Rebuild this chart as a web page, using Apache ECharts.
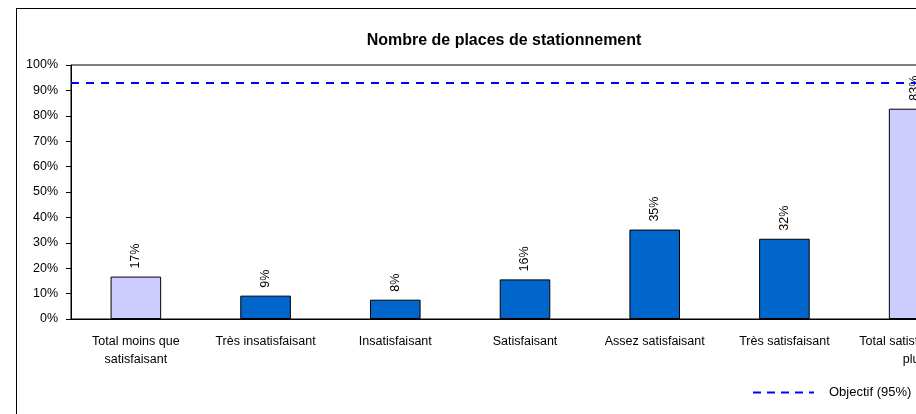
<!DOCTYPE html>
<html>
<head>
<meta charset="utf-8">
<script src="https://cdn.jsdelivr.net/npm/echarts@6/dist/echarts.min.js"></script>
<style>
  html, body { margin: 0; padding: 0; background: #fff; overflow: hidden; }
  #frame { position: absolute; left: 16px; top: 8px; border: 1px solid #000; }
  #chart { width: 974px; height: 440px; }
</style>
</head>
<body>
<div id="frame"><div id="chart"></div></div>
<script>
// categories and values
const categories = [
  'Total moins que\nsatisfaisant',
  'Très insatisfaisant',
  'Insatisfaisant',
  'Satisfaisant',
  'Assez satisfaisant',
  'Très satisfaisant',
  'Total satisfaisant ou\nplus'
]
const values = [16.7, 9.2, 7.6, 15.6, 35.2, 31.6, 82.8]
const yTicks = [0, 100, 10] // min, max, interval
const objectif = 93
const objectifName = 'Objectif (95%)'

const font = 'Arial, "Liberation Sans", sans-serif'

const chart = echarts.init(document.getElementById('chart'))
chart.setOption({
  animation: false,
  textStyle: { fontFamily: font },
  title: {
    text: 'Nombre de places de stationnement',
    left: 'center',
    top: 19,
    textStyle: { fontFamily: font, fontSize: 16, fontWeight: 'bold', color: '#000' }
  },
  legend: {
    data: [objectifName],
    left: 730,
    top: 372,
    itemWidth: 61,
    itemHeight: 14,
    itemStyle: { opacity: 0 },
    textStyle: { fontFamily: font, fontSize: 13, color: '#000', padding: [0, 0, 0, 10] }
  },
  grid: {
    left: 54,
    top: 56,
    width: 908,
    height: 254,
    show: true,
    borderColor: '#000',
    borderWidth: 1,
    backgroundColor: 'transparent'
  },
  xAxis: {
    type: 'category',
    data: categories,
    axisLine: { lineStyle: { color: '#000', width: 1 } },
    axisTick: { length: 5, lineStyle: { color: '#000' } },
    axisLabel: { interval: 0, color: '#000', fontFamily: font, fontSize: 12.5, lineHeight: 18, margin: 14 }
  },
  yAxis: {
    type: 'value',
    min: yTicks[0],
    max: yTicks[1],
    interval: yTicks[2],
    splitLine: { show: false },
    axisLine: { show: true, lineStyle: { color: '#000', width: 1 } },
    axisTick: { show: true, length: 5, lineStyle: { color: '#000' } },
    axisLabel: { color: '#000', fontFamily: font, fontSize: 12.5, margin: 13, formatter: '{value}%' }
  },
  series: [
    {
      type: 'bar',
      barWidth: '39%',
      data: values.map((v, i) => ({
        value: v,
        itemStyle: {
          color: categories[i].startsWith('Total') ? '#CCCCFF' : '#0066CC',
          borderColor: '#000',
          borderWidth: 1
        }
      })),
      label: {
        show: true,
        position: 'top',
        rotate: 90,
        align: 'left',
        verticalAlign: 'middle',
        distance: 8,
        color: '#000',
        fontFamily: font,
        fontSize: 12.5,
        formatter: p => Math.round(p.value) + '%'
      }
    },
    {
      name: objectifName,
      type: 'line',
      symbol: 'none',
      showSymbol: false,
      data: [],
      lineStyle: { color: '#0000FF', type: [8, 6], width: 2 },
      itemStyle: { color: '#0000FF' },
      markLine: {
        silent: true,
        symbol: ['none', 'none'],
        label: { show: false },
        lineStyle: { color: '#0000FF', type: [8, 7], width: 2 },
        data: [{ yAxis: objectif }]
      }
    }
  ]
})
</script>
</body>
</html>
